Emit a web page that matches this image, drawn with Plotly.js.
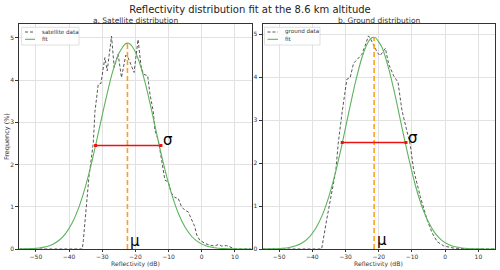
<!DOCTYPE html>
<html><head><meta charset="utf-8">
<script src="https://cdn.plot.ly/plotly-3.0.1.min.js"></script>
<style>html,body{margin:0;padding:0;background:#fff}#c{width:500px;height:270px}</style>
</head><body><div id="c"></div>
<script>
// Satellite data (left panel)
const satX = [-55,-36.0,-35.7,-35.2,-34.0,-32.7,-32.2,-31.2,-30.4,-29.2,-28.5,-27.2,-26.4,-25.2,-24.2,-22.9,-22.2,-20.4,-19.2,-18.3,-17.6,-16.3,-15.6,-14.6,-14.1,-13.1,-11.6,-11.1,-10.1,-9.1,-8.1,-7.1,-6.1,-5.1,-4.1,-3.1,-2.1,-1.5,-0.6,1.0,2.5,4.0,5.0,6.0,7.5,8.5,10.0,15];
const satY = [0,0,0.2,0.69,1.71,2.5,3.25,3.90,3.92,4.53,4.22,5.04,4.30,4.61,4.06,4.59,4.53,4.18,4.96,4.33,4.14,4.10,3.66,3.25,2.81,2.58,1.91,1.63,1.59,1.32,1.22,1.20,1.00,0.92,0.88,0.69,0.53,0.33,0.21,0.13,0.09,0.07,0.11,0.07,0.08,0.05,0,0];
// Ground data (right panel)
const gndX = [-55,-37.2,-35.7,-34.2,-32.9,-32.2,-31.3,-31.0,-29.6,-28.6,-27.6,-25.1,-24.1,-23.1,-22.4,-21.4,-20.4,-19.6,-18.6,-18.0,-17.0,-15.5,-14.2,-13.0,-10.5,-9.5,-7.5,-5.4,-3.9,-2.4,-0.4,2.6,5.6,8,15];
const gndY = [0,0,0.67,1.30,1.84,2.46,3.08,3.20,3.95,3.99,4.32,4.53,4.73,4.96,4.88,4.73,4.57,4.50,4.61,4.67,4.30,4.03,3.88,3.22,2.42,1.84,1.22,0.67,0.37,0.17,0.07,0.02,0.01,0,0];
// Fit curves (2 dB steps)
const fitX = [-55,-53,-51,-49,-47,-45,-43,-41,-39,-37,-35,-33,-31,-29,-27,-25,-23,-22,-21,-19,-17,-15,-13,-11,-9,-7,-5,-3,-1,1,3,5,7,9,11,13,15];
const fitSatY = [0.002,0.005,0.011,0.025,0.054,0.109,0.208,0.372,0.627,0.998,1.495,2.111,2.81,3.52,4.16,4.63,4.86,4.87,4.80,4.47,3.92,3.24,2.52,1.85,1.28,0.835,0.513,0.296,0.162,0.083,0.040,0.018,0.008,0.003,0.001,0.0005,0.0002];
const fitGndY = [0.001,0.003,0.007,0.016,0.035,0.074,0.147,0.273,0.478,0.789,1.225,1.79,2.46,3.19,3.89,4.47,4.84,4.92,4.92,4.69,4.20,3.55,2.82,2.12,1.49,0.99,0.62,0.364,0.202,0.105,0.052,0.024,0.010,0.004,0.002,0.001,0.0003];
// Fit statistics
const satMu = -22.4, satPeak = 4.88, satSigL = -32.0, satSigR = -12.3, satHalf = 2.45;
const gndMu = -21.4, gndPeak = 4.93, gndSigL = -31.0, gndSigR = -11.8, gndHalf = 2.48;
const xTicks = [-50,-40,-30,-20,-10,0,10];
const yTicks = [0,1,2,3,4,5];
const satLegend = ['satellite data', 'fit'];
const gndLegend = ['ground data', 'fit'];

const dataCol = '#444', fitCol = '#5db35d', muCol = '#ff9f1a', sigCol = '#ee1111';
const txtCol = '#333333';
const F = 'DejaVu Sans, sans-serif';
const W = 500, H = 270;
const px = v => v / W, py = v => 1 - v / H;

function panel(xa, ya, dX, dY, fY, mu, peak, sL, sR, half) {
  return [
    {x: dX, y: dY, xaxis: xa, yaxis: ya, type: 'scatter', mode: 'lines',
     line: {color: dataCol, width: 0.9, dash: '3px,2px'}},
    {x: fitX, y: fY, xaxis: xa, yaxis: ya, type: 'scatter', mode: 'lines',
     line: {color: fitCol, width: 1.1, shape: 'spline', smoothing: 0.6}},
    {x: [mu, mu], y: [0, peak], xaxis: xa, yaxis: ya, type: 'scatter', mode: 'lines',
     line: {color: muCol, width: 1.6, dash: '5px,3px'}},
    {x: [sL, sR], y: [half, half], xaxis: xa, yaxis: ya, type: 'scatter', mode: 'lines+markers',
     line: {color: sigCol, width: 1.5}, marker: {color: sigCol, size: 3, symbol: 'square'}}
  ];
}

const traces = [].concat(
  panel('x', 'y', satX, satY, fitSatY, satMu, satPeak, satSigL, satSigR, satHalf),
  panel('x2', 'y2', gndX, gndY, fitGndY, gndMu, gndPeak, gndSigL, gndSigR, gndHalf)
);

function xax(dom, anchor) {
  return {domain: dom, anchor: anchor, range: [-55, 15], tickvals: xTicks, showgrid: true, gridcolor: '#e2e2e2', gridwidth: 1,
    zeroline: false, showline: true, linecolor: '#333', linewidth: 1, mirror: true,
    ticks: 'outside', ticklen: 2, tickcolor: '#333', tickfont: {family: F, size: 6, color: txtCol}};
}
function yax(anchor, top) {
  return {domain: [py(249), py(24.3)], range: [0, top], tickvals: yTicks, anchor: anchor, showgrid: true,
    gridcolor: '#e2e2e2', gridwidth: 1, zeroline: false, showline: true, linecolor: '#333', linewidth: 1, mirror: true,
    ticks: 'outside', ticklen: 3, tickcolor: '#333', tickfont: {family: F, size: 6, color: txtCol}};
}

// custom compact legends (paper coords)
const shapes = [], anns = [];
function legend(x0, x1, y0, y1, lx0, lx1, tx, labels) {
  shapes.push({type: 'rect', xref: 'paper', yref: 'paper', x0: px(x0), x1: px(x1), y0: py(y1), y1: py(y0),
    line: {color: '#d8d8d8', width: 0.8}, fillcolor: 'rgba(255,255,255,0.85)'});
  const rows = [32, 39.3];
  shapes.push({type: 'line', xref: 'paper', yref: 'paper', x0: px(lx0), x1: px(lx1), y0: py(rows[0]), y1: py(rows[0]),
    line: {color: dataCol, width: 0.9, dash: '3px,2px'}});
  shapes.push({type: 'line', xref: 'paper', yref: 'paper', x0: px(lx0), x1: px(lx1), y0: py(rows[1]), y1: py(rows[1]),
    line: {color: fitCol, width: 1.1}});
  labels.forEach((t, i) => anns.push({text: t, xref: 'paper', yref: 'paper', x: px(tx), y: py(rows[i]),
    xanchor: 'left', yanchor: 'middle', showarrow: false, font: {family: F, size: 5.6, color: txtCol}}));
}
legend(21.7, 79, 27.3, 45, 25, 35, 39.5, satLegend);
legend(264.5, 320, 27.3, 45, 267.5, 278, 283, gndLegend);

anns.push(
  {text: 'a. Satellite distribution', xref: 'paper', yref: 'paper', x: px(135.5), y: py(20), xanchor: 'center', yanchor: 'middle',
   showarrow: false, font: {family: F, size: 7.5, color: txtCol}},
  {text: 'b. Ground distribution', xref: 'paper', yref: 'paper', x: px(378.5), y: py(20), xanchor: 'center', yanchor: 'middle',
   showarrow: false, font: {family: F, size: 7.5, color: txtCol}},
  {text: 'Reflectivity (dB)', xref: 'paper', yref: 'paper', x: px(135.5), y: py(264), xanchor: 'center', yanchor: 'middle',
   showarrow: false, font: {family: F, size: 6.1, color: txtCol}},
  {text: 'Reflectivity (dB)', xref: 'paper', yref: 'paper', x: px(378.5), y: py(264), xanchor: 'center', yanchor: 'middle',
   showarrow: false, font: {family: F, size: 6.1, color: txtCol}},
  {text: 'Frequency (%)', xref: 'paper', yref: 'paper', x: px(6.5), y: py(136.5), xanchor: 'center', yanchor: 'middle',
   textangle: -90, showarrow: false, font: {family: F, size: 6.5, color: txtCol}},
  {text: 'σ', xref: 'x', yref: 'y', x: satSigR + 0.1, y: satHalf + 0.14, xanchor: 'left', yanchor: 'middle',
   showarrow: false, font: {family: F, size: 15, color: '#000'}},
  {text: 'μ', xref: 'x', yref: 'y', x: satMu + 0.3, y: 0.2, xanchor: 'left', yanchor: 'middle',
   showarrow: false, font: {family: F, size: 15, color: '#000'}},
  {text: 'σ', xref: 'x2', yref: 'y2', x: gndSigR + 0.1, y: gndHalf + 0.1, xanchor: 'left', yanchor: 'middle',
   showarrow: false, font: {family: F, size: 15, color: '#000'}},
  {text: 'μ', xref: 'x2', yref: 'y2', x: gndMu + 0.3, y: 0.2, xanchor: 'left', yanchor: 'middle',
   showarrow: false, font: {family: F, size: 15, color: '#000'}}
);

const layout = {
  width: W, height: H, paper_bgcolor: '#fff', plot_bgcolor: '#fff', showlegend: false,
  margin: {l: 0, r: 0, t: 0, b: 0},
  title: {text: 'Reflectivity distribution fit at the 8.6 km altitude', font: {family: F, size: 10, color: '#222'},
          x: 0.5, xanchor: 'center', y: py(9.5), yanchor: 'middle'},
  xaxis: xax([px(19.3), px(251.5)], 'y'),
  yaxis: yax('x', 5.32),
  xaxis2: xax([px(262.5), px(495)], 'y2'),
  yaxis2: yax('x2', 5.23),
  shapes: shapes,
  annotations: anns
};

Plotly.newPlot('c', traces, layout, {displayModeBar: false, staticPlot: true});
</script></body></html>
